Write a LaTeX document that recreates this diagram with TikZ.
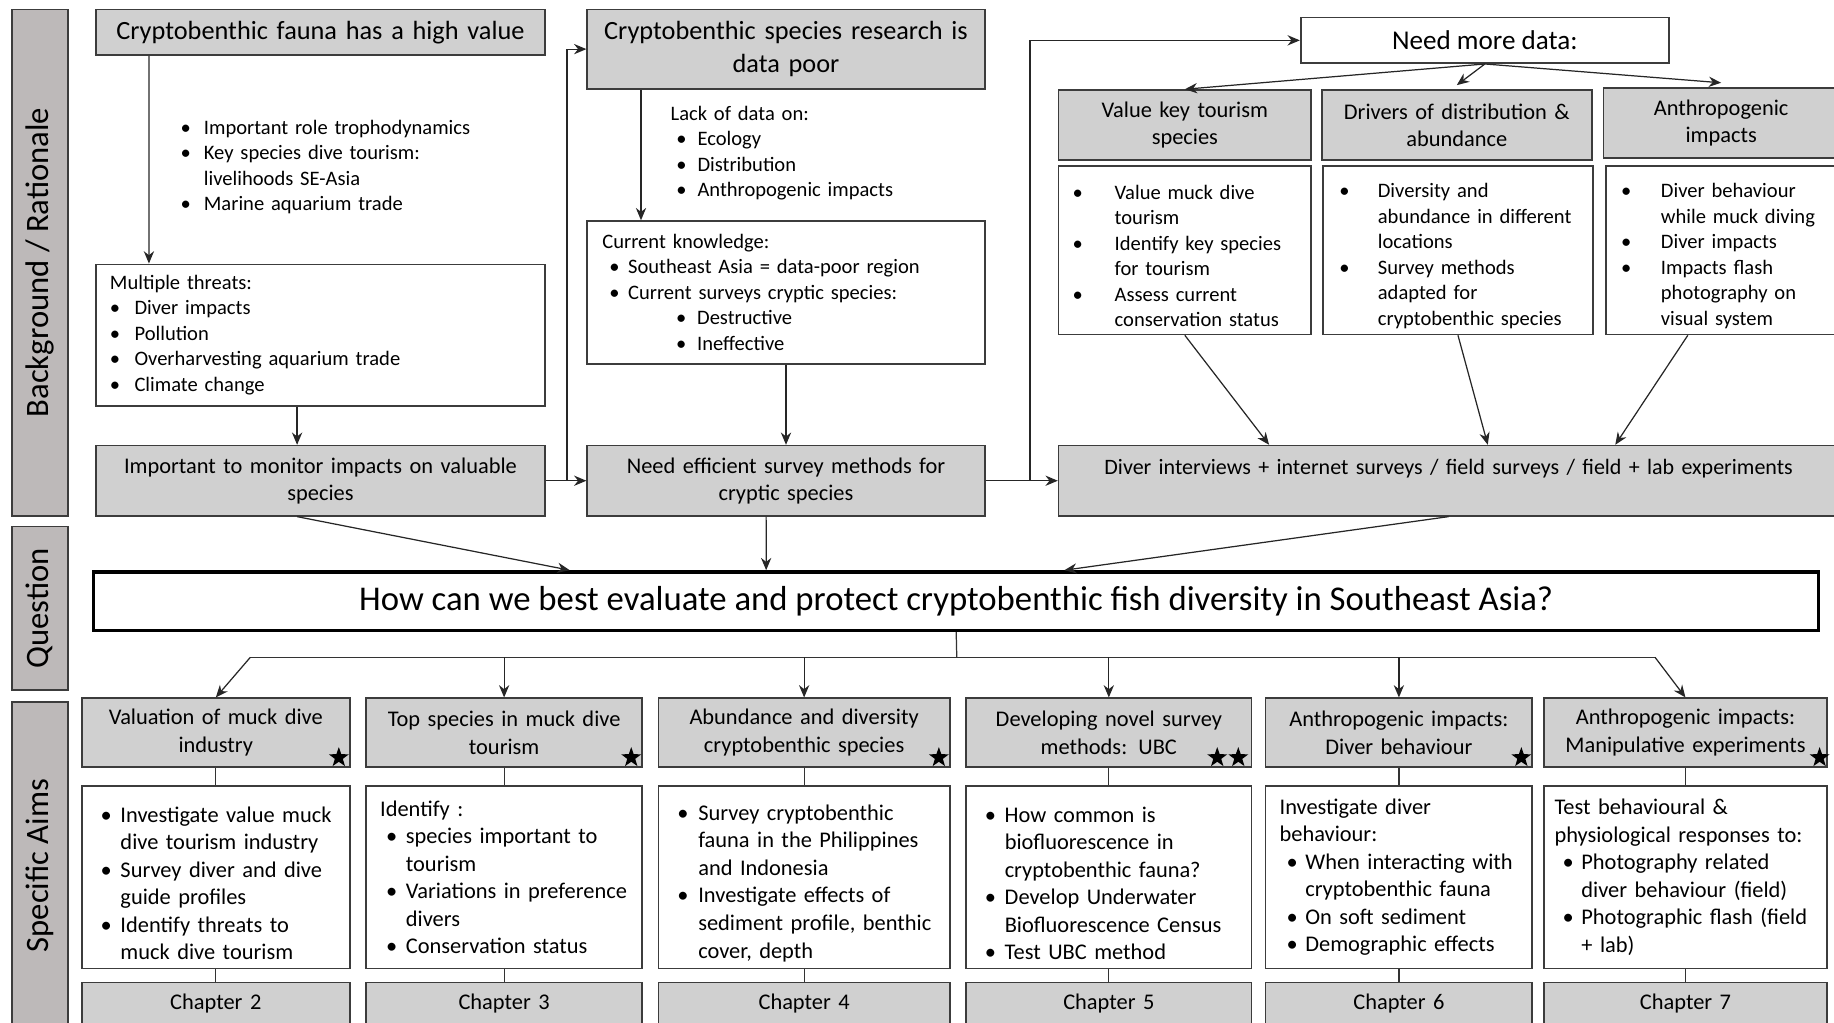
\documentclass[tikz,border=0pt]{standalone}
\usepackage{fontspec}
\setmainfont{Carlito}
\usepackage{tikz}
\usetikzlibrary{arrows.meta,positioning,calc,shapes.geometric}
\definecolor{boxgrey}{RGB}{208,208,208}
\definecolor{sidegrey}{RGB}{189,185,185}
\definecolor{edgegrey}{RGB}{60,60,60}
\setlength{\parindent}{0pt}
\newcommand{\bpt}[3]{\par\noindent\hangindent=#2\hangafter=1\hbox to #2{\hskip#1\textbullet\hfil}#3\par}

\begin{document}
\begin{tikzpicture}[
  x=0.02cm, y=-0.02cm,
  font=\fontsize{10}{12.4}\selectfont,
  box/.style={draw=edgegrey, line width=0.8pt, inner sep=0pt},
  head/.style={box, fill=boxgrey, align=center},
  list/.style={box, fill=white, align=left},
  side/.style={box, fill=sidegrey, rotate=90, minimum height=0.96cm, font=\fontsize{15.9}{18}\selectfont},
  big/.style={font=\fontsize{12.8}{15.9}\selectfont},
  mid/.style={font=\fontsize{10.9}{13}\selectfont},
  low/.style={font=\fontsize{10.9}{13.4}\selectfont},
  ar/.style={-{Stealth[length=6pt, width=5pt]}, draw=black!85, line width=0.6pt},
  ln/.style={draw=black!80, line width=0.6pt},
  starmk/.style={star, star points=5, star point ratio=2.5, fill=black, minimum size=0.36cm, inner sep=0pt}
]
\useasboundingbox (0,0) rectangle (1568,874);

% ---- side bars --------------------------------------------------------------
\node[side, minimum width=8.66cm] (bg) at (34,224.5) {Background / Rationale};
\node[side, minimum width=2.8cm] (qu) at (34,520) {Question};
\node[side, minimum width=5.6cm] (sa) at (34,740) {Specific Aims};

% ---- background: left column ------------------------------------------------
\node[head, big, text width=7.68cm, minimum height=0.78cm] (value) at (274,27.5)
  {Cryptobenthic fauna has a high value};
\node[anchor=west, text width=5.4cm, align=left, inner sep=0pt] (roles) at (154,138)
  {\bpt{0pt}{0.4cm}{Important role trophodynamics}
   \bpt{0pt}{0.4cm}{Key species dive tourism:\newline livelihoods SE-Asia}
   \bpt{0pt}{0.4cm}{Marine aquarium trade}};
\node[list, text width=7.2cm, inner xsep=0.24cm, minimum height=2.42cm] (threats) at (274,286.5)
  {Multiple threats:
   \bpt{0pt}{0.42cm}{Diver impacts}
   \bpt{0pt}{0.42cm}{Pollution}
   \bpt{0pt}{0.42cm}{Overharvesting aquarium trade}
   \bpt{0pt}{0.42cm}{Climate change}};
\node[head, mid, text width=7.68cm, minimum height=1.2cm] (monitor) at (274,411)
  {Important to monitor impacts on valuable\\ species};

% ---- background: middle column ----------------------------------------------
\node[head, big, text width=6.8cm, minimum height=1.36cm] (poor) at (672,42)
  {Cryptobenthic species research is\\ data poor};
\node[anchor=west, text width=4.6cm, align=left, inner sep=0pt] (lack) at (573,131)
  {Lack of data on:
   \bpt{0.1cm}{0.46cm}{Ecology}
   \bpt{0.1cm}{0.46cm}{Distribution}
   \bpt{0.1cm}{0.46cm}{Anthropogenic impacts}};
\node[list, text width=6.28cm, inner xsep=0.26cm, minimum height=2.44cm] (known) at (672,250)
  {Current knowledge:
   \bpt{0.12cm}{0.44cm}{Southeast Asia = data-poor region}
   \bpt{0.12cm}{0.44cm}{Current surveys cryptic species:}
   \bpt{1.26cm}{1.62cm}{Destructive}
   \bpt{1.26cm}{1.62cm}{Ineffective}};
\node[head, mid, text width=6.8cm, minimum height=1.2cm] (efficient) at (672,411)
  {Need efficient survey methods for\\ cryptic species};

% ---- background: right column -----------------------------------------------
\node[box, fill=white, minimum width=6.3cm, minimum height=0.78cm, font=\fontsize{13.2}{15}\selectfont] (more) at (1269.5,34.5)
  {Need more data:};
\node[head, mid, text width=4.32cm, minimum height=1.2cm] (tourism) at (1013,107)
  {Value key tourism\\ species};
\node[head, mid, text width=4.62cm, minimum height=1.2cm] (drivers) at (1245.5,107)
  {Drivers of distribution \&\\ abundance};
\node[head, mid, text width=4.02cm, minimum height=1.2cm] (anthro) at (1471.5,105)
  {Anthropogenic\\ impacts};
\node[list, text width=4.08cm, inner xsep=0.12cm, minimum height=2.88cm] (tourismL) at (1013,214)
  {\bpt{0.12cm}{0.84cm}{Value muck dive\newline tourism}
   \bpt{0.12cm}{0.84cm}{Identify key species\newline for tourism}
   \bpt{0.12cm}{0.84cm}{Assess current\newline conservation status}};
\node[list, text width=4.38cm, inner xsep=0.12cm, minimum height=2.88cm] (driversL) at (1246.5,214)
  {\bpt{0.16cm}{0.82cm}{Diversity and\newline abundance in different\newline locations}
   \bpt{0.16cm}{0.82cm}{Survey methods\newline adapted for\newline cryptobenthic species}};
\node[list, text width=3.74cm, inner xsep=0.12cm, minimum height=2.88cm] (anthroL) at (1472.5,214)
  {\bpt{0.14cm}{0.82cm}{Diver behaviour\newline while muck diving}
   \bpt{0.14cm}{0.82cm}{Diver impacts}
   \bpt{0.14cm}{0.82cm}{Impacts flash\newline photography on\newline visual system}};
\node[head, text width=13.34cm, minimum height=1.2cm, font=\fontsize{10.7}{13.4}\selectfont] (methods) at (1238.5,411)
  {Diver interviews + internet surveys / field surveys / field + lab experiments\\ \mbox{}};

% ---- question ---------------------------------------------------------------
\node[box, draw=black, line width=1.7pt, fill=white, minimum width=29.5cm, minimum height=1.0cm,
  font=\fontsize{16.9}{19}\selectfont] (quest) at (817.5,514)
  {How can we best evaluate and protect cryptobenthic fish diversity in Southeast Asia?};

% ---- specific aims ----------------------------------------------------------
\node[head, low, text width=4.58cm, minimum height=1.18cm] (valuation) at (184.5,626.5)
  {Valuation of muck dive\\ industry};
\node[head, low, text width=4.72cm, minimum height=1.18cm] (topsp) at (431,626.5)
  {Top species in muck dive\\ tourism};
\node[head, low, text width=4.98cm, minimum height=1.18cm] (abund) at (687.5,626.5)
  {Abundance and diversity\\ cryptobenthic species};
\node[head, low, text width=4.88cm, minimum height=1.18cm] (ubc) at (948,626.5)
  {Developing novel survey\\ methods: UBC};
\node[head, low, text width=4.56cm, minimum height=1.18cm] (divbeh) at (1196,626.5)
  {Anthropogenic impacts:\\ Diver behaviour};
\node[head, low, text width=4.84cm, minimum height=1.18cm] (manip) at (1441,626.5)
  {Anthropogenic impacts:\\ Manipulative experiments};

\node[starmk] (st1) at ([xshift=-0.2cm, yshift=0.18cm]valuation.south east) {};
\node[starmk] (st2) at ([xshift=-0.2cm, yshift=0.18cm]topsp.south east) {};
\node[starmk] (st3) at ([xshift=-0.2cm, yshift=0.18cm]abund.south east) {};
\node[starmk] (st4) at ([xshift=-0.6cm, yshift=0.18cm]ubc.south east) {};
\node[starmk] (st5) at ([xshift=-0.24cm, yshift=0.18cm]ubc.south east) {};
\node[starmk] (st6) at ([xshift=-0.2cm, yshift=0.18cm]divbeh.south east) {};
\node[starmk] (st7) at ([xshift=-0.14cm, yshift=0.18cm]manip.south east) {};

\node[list, low, text width=4.34cm, inner xsep=0.12cm, minimum height=3.12cm] (valuationL) at (184.5,750)
  {\bpt{0.2cm}{0.54cm}{Investigate value muck\newline dive tourism industry}
   \bpt{0.2cm}{0.54cm}{Survey diver and dive\newline guide profiles}
   \bpt{0.2cm}{0.54cm}{Identify threats to\newline muck dive tourism}};
\node[list, low, text width=4.24cm, inner xsep=0.24cm, minimum height=3.12cm] (topspL) at (431,750)
  {Identify :
   \bpt{0.1cm}{0.44cm}{species important to\newline tourism}
   \bpt{0.1cm}{0.44cm}{Variations in preference\newline divers}
   \bpt{0.1cm}{0.44cm}{Conservation status}};
\node[list, low, text width=4.74cm, inner xsep=0.12cm, minimum height=3.12cm] (abundL) at (687.5,750)
  {\bpt{0.2cm}{0.56cm}{Survey cryptobenthic\newline fauna in the Philippines\newline and Indonesia}
   \bpt{0.2cm}{0.56cm}{Investigate effects of\newline sediment profile, benthic\newline cover, depth}};
\node[list, low, text width=4.64cm, inner xsep=0.12cm, minimum height=3.12cm] (ubcL) at (948,750)
  {\bpt{0.2cm}{0.54cm}{How common is\newline biofluorescence in\newline cryptobenthic fauna?}
   \bpt{0.2cm}{0.54cm}{Develop Underwater\newline Biofluorescence Census}
   \bpt{0.2cm}{0.54cm}{Test UBC method}};
\node[list, low, text width=4.08cm, inner xsep=0.24cm, minimum height=3.12cm] (divbehL) at (1196,750)
  {Investigate diver\newline behaviour:
   \bpt{0.12cm}{0.44cm}{When interacting with\newline cryptobenthic fauna}
   \bpt{0.12cm}{0.44cm}{On soft sediment}
   \bpt{0.12cm}{0.44cm}{Demographic effects}};
\node[list, low, text width=4.48cm, inner xsep=0.18cm, minimum height=3.12cm] (manipL) at (1441,750)
  {Test behavioural \&\newline physiological responses to:
   \bpt{0.14cm}{0.46cm}{Photography related\newline diver behaviour (field)}
   \bpt{0.14cm}{0.46cm}{Photographic flash (field\newline + lab)}};

\node[head, low, text width=4.58cm, minimum height=0.72cm] (ch2) at (184.5,858) {Chapter 2};
\node[head, low, text width=4.72cm, minimum height=0.72cm] (ch3) at (431,858) {Chapter 3};
\node[head, low, text width=4.98cm, minimum height=0.72cm] (ch4) at (687.5,858) {Chapter 4};
\node[head, low, text width=4.88cm, minimum height=0.72cm] (ch5) at (948,858) {Chapter 5};
\node[head, low, text width=4.56cm, minimum height=0.72cm] (ch6) at (1196,858) {Chapter 6};
\node[head, low, text width=4.84cm, minimum height=0.72cm] (ch7) at (1441,858) {Chapter 7};

% ---- edges: background ------------------------------------------------------
\draw[ar] ([xshift=0.92cm]value.south west) -- ([xshift=0.92cm]threats.north west);
\draw[ar] ([xshift=-0.4cm]threats.south) -- ([xshift=-0.4cm]monitor.north);
\draw[ar] (monitor.east) -- ++(18,0) |- (poor.west);
\draw[ar] (monitor.east) -- (efficient.west);
\draw[ar] ([xshift=-2.48cm]poor.south) -- ([xshift=-2.48cm]known.north);
\draw[ar] (known) -- (efficient);
\draw[ar] (efficient.east) -- ++(38,0) |- (more.west);
\draw[ar] (efficient.east) -- (methods.west);
\draw[ar] (more.south) -- (tourism.north);
\draw[ar] (more.south) -- ([yshift=2pt]drivers.north);
\draw[ar] (more.south) -- ([yshift=2pt]anthro.north);
\draw[ar] (tourismL.south) -- ([xshift=-3.07cm]methods.north);
\draw[ar] (driversL.south) -- ([xshift=0.67cm]methods.north);
\draw[ar] ([xshift=-0.59cm]anthroL.south) -- ([xshift=2.85cm]methods.north);

% ---- edges: question --------------------------------------------------------
\draw[ar] ([xshift=-0.4cm]monitor.south) -- ([xshift=-6.61cm]quest.north);
\draw[ar] ([xshift=-0.34cm]efficient.south) -- ([xshift=-3.25cm]quest.north);
\draw[ar] (methods.south) -- ([xshift=1.85cm]quest.north);

\coordinate (fan) at (818,562);
\coordinate (fanL) at (214,562);
\coordinate (fanR) at (1415,562);
\draw[ln] (quest.south) -- (fan);
\draw[ln] (fanL) -- (fanR);
\draw[ar] (fanL) -- (valuation.north);
\draw[ar] (topsp.north |- fan) -- (topsp.north);
\draw[ar] (abund.north |- fan) -- (abund.north);
\draw[ar] (ubc.north |- fan) -- (ubc.north);
\draw[ar] (divbeh.north |- fan) -- (divbeh.north);
\draw[ar] (fanR) -- (manip.north);

% ---- edges: aims ------------------------------------------------------------
\draw[ln] (valuation) -- (valuationL);
\draw[ln] (topsp) -- (topspL);
\draw[ln] (abund) -- (abundL);
\draw[ln] (ubc) -- (ubcL);
\draw[ln] (divbeh) -- (divbehL);
\draw[ln] (manip) -- (manipL);
\draw[ln] (valuationL) -- (ch2);
\draw[ln] (topspL) -- (ch3);
\draw[ln] (abundL) -- (ch4);
\draw[ln] (ubcL) -- (ch5);
\draw[ln] (divbehL) -- (ch6);
\draw[ln] (manipL) -- (ch7);
\end{tikzpicture}
\end{document}
